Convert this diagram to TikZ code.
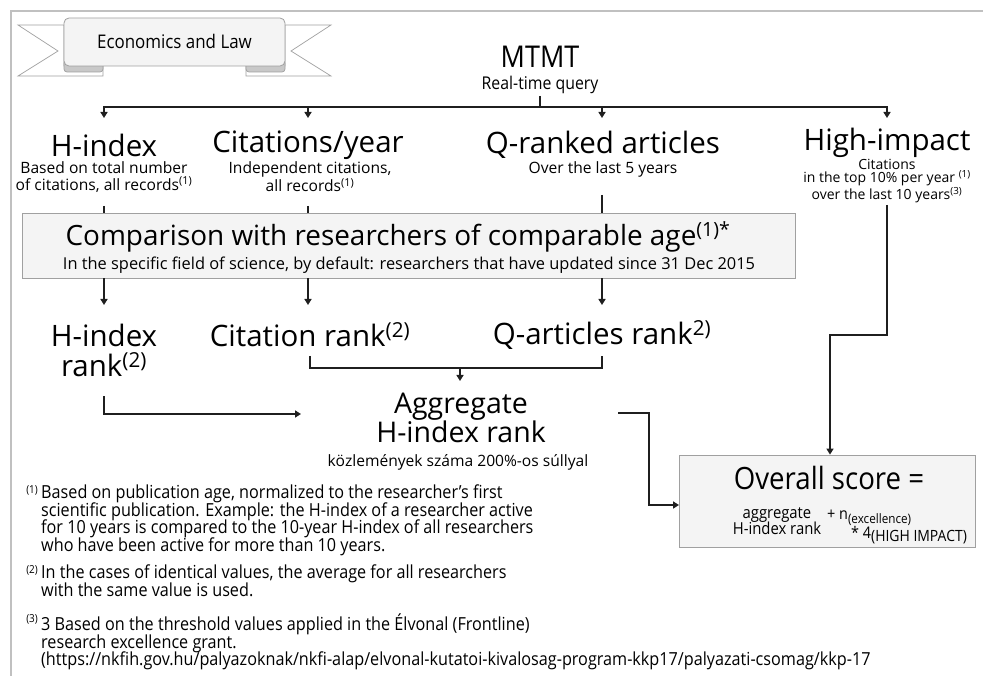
\documentclass[tikz,border=0pt]{standalone}
\usepackage{fontspec}
\setmainfont{Open Sans}
\newfontfamily\narrow[FakeStretch=0.9]{Open Sans}
\usetikzlibrary{arrows.meta,calc,positioning}
\definecolor{ink}{HTML}{1F1F1F}
\definecolor{boxfill}{HTML}{F4F4F4}
\definecolor{boxline}{HTML}{A0A0A0}
\definecolor{frameline}{HTML}{C0C0C0}
\definecolor{curl}{HTML}{C8C8C8}
\newcommand{\fs}[2]{\fontsize{#1}{#2}\selectfont}
\newcommand{\sups}[1]{\textsuperscript{#1}}
\newcommand{\lowsub}[2]{\raisebox{-3.5pt}{\fs{#1}{#1}#2}}
\newcommand{\tightlines}{\lineskiplimit=-20pt\relax\lineskip=0pt\relax}

\begin{document}
\begin{tikzpicture}[x=1pt,y=-1pt,
  ln/.style={draw=ink,line width=2.4pt},
  arr/.style={ln,-{Triangle[width=7pt,length=6pt]}},
  head/.style={inner sep=0pt,font=\fs{29.5}{30},align=center},
  sub/.style={inner sep=0pt,font=\fs{15.6}{16.5},align=center},
  fnote/.style={inner sep=0pt,anchor=north west,align=left,font=\narrow\fs{18}{17.5}\tightlines},
  fmark/.style={inner sep=0pt,anchor=north east,font=\narrow\fs{11}{11}},
  panel/.style={draw=boxline,fill=boxfill,line width=0.8pt}]
\useasboundingbox (0,0) rectangle (983,676);
% frame
\draw[frameline,line width=2pt] (11,676) -- (11,11) -- (983,11);

% ribbon
\begin{scope}[draw=boxline,line width=0.7pt]
  \draw[fill=white] (64,25) -- (18,25) -- (58,51) -- (18,76) -- (103,76) -- (103,66) -- (64,66) -- cycle;
  \draw[fill=white] (285,25) -- (331,25) -- (291,51) -- (331,76) -- (246,76) -- (246,66) -- (285,66) -- cycle;
  \draw[fill=curl,rounded corners=3pt] (64,60) rectangle (103,72);
  \draw[fill=curl,rounded corners=3pt] (246,60) rectangle (285,72);
  \draw[panel,rounded corners=5pt] (64,18) rectangle (285,66);
\end{scope}
\node[inner sep=0pt,font=\narrow\fs{18.8}{18.8}] (ribbon) at (174.5,41) {Economics and Law};

% source
\node[inner sep=0pt,font=\narrow\fs{30}{30}] (mtmt) at (540,57) {MTMT};
\node[inner sep=0pt,font=\narrow\fs{17.6}{17.6}] (rtq) at (540,85) {Real-time query};
\coordinate (split) at (540,107);
\coordinate (hin) at (104,118);
\coordinate (cin) at (308,118);
\coordinate (qin) at (602,118);
\coordinate (iin) at (887,118);
\draw[ln] (540,96) -- (split);
\draw[arr] (split) -| (hin);
\draw[arr] (split) -| (cin);
\draw[arr] (split) -| (qin);
\draw[arr] (split) -| (iin);

% indicators
\node[head] (hidx) at (104,145) {H-index};
\node[sub] (hsub) at (104,177) {Based on total number\\of citations, all records\sups{(1)}};
\node[head] (cit) at (308,145) {Citations/year};
\node[sub] (csub) at (310,177) {Independent citations,\\all records\sups{(1)}};
\node[head] (qart) at (603,145) {Q-ranked articles};
\node[sub] (qsub) at (603,169) {Over the last 5 years};
\node[head] (himp) at (887,143) {High-impact};
\node[inner sep=0pt,font=\fs{14}{13.5},align=center] (isub) at (887,181) {Citations\\in the top 10\% per year \sups{(1)}\\over the last 10 years\sups{(3)}};

% comparison
\node[panel,minimum width=773pt,minimum height=65pt,inner sep=0pt] (cmp) at (408.5,245.5) {};
\node[inner sep=0pt,font=\fs{27.9}{28}] (cmpt) at (398,237) {Comparison with researchers of comparable age\sups{(1)*}};
\node[inner sep=0pt,font=\fs{16.4}{16.4}] (cmps) at (409,265) {In the specific field of science, by default: researchers that have updated since 31 Dec 2015};
\coordinate (h1) at (104,206);
\coordinate (c1) at (308,206);
\coordinate (q1) at (602,195);
\draw[ln] (h1) -- (h1 |- cmp.north);
\draw[ln] (c1) -- (c1 |- cmp.north);
\draw[ln] (q1) -- (q1 |- cmp.north);

% ranks
\coordinate (hrin) at (104,305);
\coordinate (crin) at (308,305);
\coordinate (qrin) at (602,305);
\draw[arr] (hrin |- cmp.south) -- (hrin);
\draw[arr] (crin |- cmp.south) -- (crin);
\draw[arr] (qrin |- cmp.south) -- (qrin);
\node[head] (hrank) at (104,350) {H-index\\rank\sups{(2)}};
\node[head] (crank) at (310,335) {Citation rank\sups{(2)}};
\node[head] (qrank) at (602,335) {Q-articles rank\sups{2)}};

% aggregate
\coordinate (cb) at (310,356);
\coordinate (qb) at (602,356);
\coordinate (amid) at (460,368);
\coordinate (ain) at (460,381);
\draw[ln] (cb) |- (amid) -| (qb);
\draw[arr] (amid) -- (ain);
\coordinate (hb) at (104,396);
\coordinate (hin2) at (301,414);
\draw[arr] (hb) |- (hin2);
\node[inner sep=0pt,font=\fs{28.5}{27},align=center] (agg) at (461,418) {Aggregate\\H-index rank};
\node[sub] (aggs) at (458,462) {közlemények száma 200\%-os súllyal};

% overall score
\node[panel,minimum width=296pt,minimum height=92pt,inner sep=0pt] (ovr) at (827,501) {};
\node[inner sep=0pt,font=\narrow\fs{30.7}{30.7}] (ovrt) at (829,478) {Overall score =};
\node[inner sep=0pt,font=\narrow\fs{16.5}{15.5}\tightlines,align=center] (oagg) at (777,521) {aggregate\\H-index rank};
\node[inner sep=0pt,font=\narrow\fs{16}{16},anchor=west] (oexc) at (827,518) {+ n\lowsub{13}{(excellence)}};
\node[inner sep=0pt,font=\narrow\fs{16}{16},anchor=west] (oimp) at (851,535) {* 4\lowsub{15.5}{(HIGH IMPACT)}};
\coordinate (ao) at (618,413);
\coordinate (aoc) at (649,413);
\coordinate (oin) at (679,505);
\draw[arr] (ao) -- (aoc) |- (oin);
\coordinate (hi1) at (887,205);
\coordinate (hi3) at (830,335);
\draw[arr] (hi1) |- (hi3) -- (hi3 |- ovr.north);

% footnotes
\node[fnote] (fn1) at (41,485) {Based on publication age, normalized to the researcher’s first\\scientific publication. Example: the H-index of a researcher active\\for 10 years is compared to the 10-year H-index of all researchers\\who have been active for more than 10 years.};
\node[fmark] at ([xshift=-3pt]fn1.north west) {(1)};
\node[fnote] (fn2) at (41,565) {In the cases of identical values, the average for all researchers\\with the same value is used.};
\node[fmark] at ([xshift=-3pt]fn2.north west) {(2)};
\node[fnote] (fn3) at (41,614) {3 Based on the threshold values applied in the Élvonal (Frontline)\\research excellence grant.\\(https://nkfih.gov.hu/palyazoknak/nkfi-alap/elvonal-kutatoi-kivalosag-program-kkp17/palyazati-csomag/kkp-17};
\node[fmark] at ([xshift=-3pt]fn3.north west) {(3)};
\end{tikzpicture}
\end{document}
